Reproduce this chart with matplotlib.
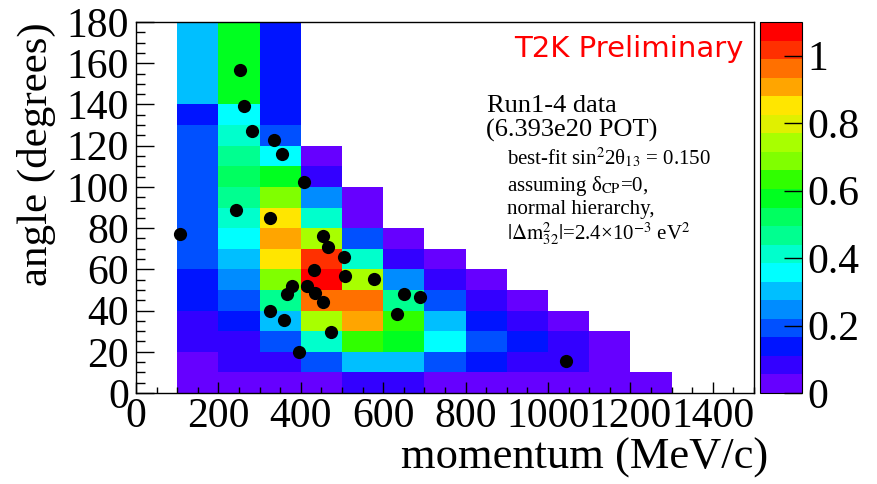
import numpy as np
import matplotlib
matplotlib.use('Agg')
import matplotlib.pyplot as plt
from matplotlib.colors import ListedColormap, BoundaryNorm
from matplotlib.ticker import MultipleLocator

plt.rcParams['font.family'] = ['Liberation Serif', 'DejaVu Serif']
plt.rcParams['mathtext.fontset'] = 'stix'

# bin edges
mom_edges = [100, 200, 300, 400, 500, 600, 700, 800, 900, 1000, 1100, 1200, 1300]
angle_edges = [0, 10, 20, 30, 40, 50, 60, 70, 80, 90, 100, 110, 120, 130, 140, 150, 160, 170, 180]

n = np.nan
# expected distribution, rows from 170-180 deg (top) down to 0-10 deg
prob = [
    [0.30, 0.58, 0.14, n, n, n, n, n, n, n, n, n],
    [0.30, 0.58, 0.14, n, n, n, n, n, n, n, n, n],
    [0.30, 0.58, 0.14, n, n, n, n, n, n, n, n, n],
    [0.30, 0.58, 0.14, n, n, n, n, n, n, n, n, n],
    [0.14, 0.36, 0.14, n, n, n, n, n, n, n, n, n],
    [0.19, 0.41, 0.19, n, n, n, n, n, n, n, n, n],
    [0.19, 0.47, 0.36, 0.03, n, n, n, n, n, n, n, n],
    [0.19, 0.52, 0.58, 0.08, n, n, n, n, n, n, n, n],
    [0.19, 0.47, 0.69, 0.25, 0.03, n, n, n, n, n, n, n],
    [0.19, 0.41, 0.85, 0.41, 0.03, n, n, n, n, n, n, n],
    [0.19, 0.36, 0.91, 0.74, 0.19, 0.03, n, n, n, n, n, n],
    [0.19, 0.30, 0.85, 1.02, 0.41, 0.08, 0.03, n, n, n, n, n],
    [0.14, 0.25, 0.69, 1.07, 0.74, 0.25, 0.08, 0.03, n, n, n, n],
    [0.14, 0.19, 0.47, 0.96, 0.96, 0.47, 0.19, 0.08, 0.03, n, n, n],
    [0.08, 0.14, 0.30, 0.74, 0.91, 0.63, 0.30, 0.14, 0.08, 0.03, n, n],
    [0.08, 0.08, 0.19, 0.41, 0.63, 0.58, 0.36, 0.19, 0.14, 0.08, 0.03, n],
    [0.03, 0.08, 0.08, 0.19, 0.30, 0.30, 0.19, 0.14, 0.08, 0.08, 0.03, n],
    [0.03, 0.03, 0.03, 0.03, 0.08, 0.08, 0.03, 0.03, 0.03, 0.03, 0.03, 0.03],
]

# observed events
mom_pts = [253, 263, 282, 336, 354, 407, 243, 326, 107, 455, 465, 504, 433, 507,
           578, 379, 366, 414, 435, 455, 651, 690, 326, 360, 633, 473, 395, 1044]
ang_pts = [156.8, 139.1, 127.0, 122.6, 116.1, 102.4, 88.8, 84.8, 77.1, 76.0, 71.0, 66.1,
           59.5, 56.9, 55.2, 52.1, 48.2, 51.8, 48.7, 44.3, 47.9, 46.4, 39.6, 35.3,
           38.5, 29.4, 19.9, 15.4]

# old ROOT palette, 20 contours from 0 to 1.1
palette = ['#6600ff', '#3300ff', '#0014ff', '#0050ff', '#008cff', '#00bfff', '#00ffff',
           '#00ffcc', '#00ff90', '#00ff60', '#00ff20', '#30ff00', '#80ff00', '#a8ff00',
           '#e0f000', '#ffe600', '#ffa500', '#ff7000', '#ff3000', '#ff0000']
levels = np.linspace(0, 1.1, 21)
cmap = ListedColormap(palette)
norm = BoundaryNorm(levels, cmap.N)

Z = np.ma.masked_invalid(np.array(prob)[::-1])

W, H = 878, 484
fig = plt.figure(figsize=(W / 100, H / 100), dpi=100)
ax = fig.add_axes([136 / W, 91 / H, 618 / W, 371 / H])
cax = fig.add_axes([760 / W, 91 / H, 42 / W, 371 / H])

pcm = ax.pcolormesh(mom_edges, angle_edges, Z, cmap=cmap, norm=norm)
ax.plot(mom_pts, ang_pts, 'o', color='black', ms=9.5, mec='none')

ax.set_xlim(0, 1500)
ax.set_ylim(0, 180)
ax.set_xticks(range(0, 1401, 200))
ax.xaxis.set_minor_locator(MultipleLocator(50))
ax.set_yticks(range(0, 181, 20))
ax.yaxis.set_minor_locator(MultipleLocator(5))
ax.tick_params(axis='x', which='major', direction='in', length=8, width=1, labelsize=30, pad=3)
ax.tick_params(axis='x', which='minor', direction='in', length=4, width=1)
ax.tick_params(axis='y', which='major', direction='in', length=13, width=1, labelsize=30, pad=5)
ax.tick_params(axis='y', which='minor', direction='in', length=6.5, width=1)
for s in ax.spines.values():
    s.set_linewidth(1)

ax.set_xlabel('momentum (MeV/c)', fontsize=32, loc='right')
ax.xaxis.set_label_coords(1.023, -0.12)
ax.set_ylabel('angle (degrees)', fontsize=31, loc='top')
ax.yaxis.set_label_coords(-0.129, 1.0)

cb = fig.colorbar(pcm, cax=cax, ticks=[0, 0.2, 0.4, 0.6, 0.8, 1.0])
cb.ax.set_yticklabels(['0', '0.2', '0.4', '0.6', '0.8', '1'])
cb.ax.tick_params(direction='in', length=13, width=1, labelsize=30, pad=4)
cb.ax.minorticks_off()
cb.outline.set_linewidth(0.8)

def ftext(px, py, s, **kw):
    fig.text(px / W, 1 - py / H, s, va='baseline', **kw)

ftext(744, 57, 'T2K Preliminary', color='red', fontsize=21, ha='right', family='DejaVu Sans')
ftext(487, 112, 'Run1-4 data', fontsize=19)
ftext(486, 137, '(6.393e20 POT)', fontsize=19)
ftext(507, 165, 'best-fit sin$^{2}$2θ$_{13}$ = 0.150', fontsize=15)
ftext(507, 191, 'assuming δ$_{\\rm CP}$=0,', fontsize=15)
ftext(507, 214, 'normal hierarchy,', fontsize=15)
ftext(507, 239, '$|\\Delta \\mathrm{m}^{2}_{32}|$=2.4×10$^{-3}$ eV$^{2}$', fontsize=15)

fig.savefig('out.png', dpi=100)
